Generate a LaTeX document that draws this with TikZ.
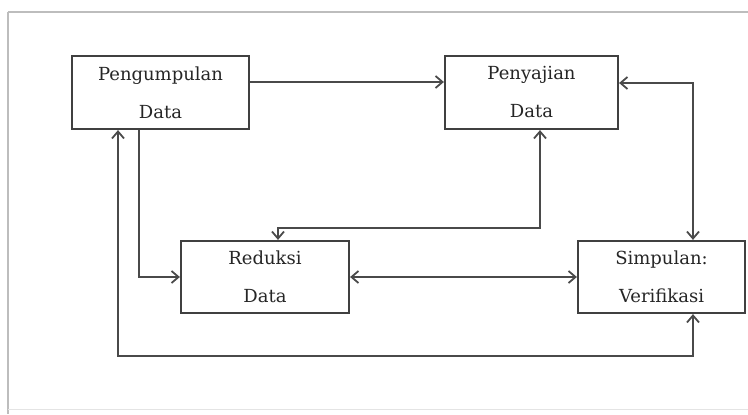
\documentclass[tikz,border=0pt]{standalone}
\usepackage{fontspec}
\setmainfont{DejaVu Serif}
\usetikzlibrary{arrows.meta}
\definecolor{boxline}{HTML}{404040}
\definecolor{conn}{HTML}{4A4A4A}
\definecolor{txt}{HTML}{262626}
\definecolor{frame}{HTML}{BDBDBD}
\tikzset{
  box/.style={draw=boxline, line width=2.2pt, rectangle, inner sep=0pt, align=center,
    text=txt, font=\fontsize{18}{38}\selectfont},
  conarrow/.style={draw=conn, line width=2pt,
    arrows={Straight Barb[length=7pt,width=12pt,line width=1.8pt]-Straight Barb[length=7pt,width=12pt,line width=1.8pt]}},
  conone/.style={draw=conn, line width=2pt,
    -{Straight Barb[length=7pt,width=12pt,line width=1.8pt]}},
}
\begin{document}
\begin{tikzpicture}[x=1pt,y=-1pt]
\useasboundingbox (0,0) rectangle (748,415);
\fill[white] (0,0) rectangle (748,415);
% frame
\draw[frame, line width=1.8pt] (8,12) -- (748,12);
\draw[frame, line width=1.8pt] (8,12) -- (8,414);
\draw[frame!40, line width=1pt] (8,409) -- (748,409);
% boxes
\node[box, minimum width=177pt, minimum height=73pt] (peng) at (160.5,92.5) {Pengumpulan\\Data};
\node[box, minimum width=173pt, minimum height=73pt] (pen) at (531.5,92.5) {Penyajian\\Data};
\node[box, minimum width=168pt, minimum height=72pt] (red) at (265,277) {Reduksi\\Data};
\node[box, minimum width=167pt, minimum height=72pt] (simp) at (661.5,277) {Simpulan:\\Verifikasi};
% connectors
\draw[conone] ([yshift=10.5pt]peng.east) -- ([yshift=10.5pt]pen.west);
\draw[conarrow] ([yshift=9.5pt]pen.east) -| ([xshift=31.5pt]simp.north);
\coordinate (mid) at ([xshift=8.5pt,yshift=-98pt]pen.south);
\draw[conarrow] ([xshift=8.5pt]pen.south) -- (mid) -| ([xshift=13pt]red.north);
\draw[conone] ([xshift=-21.5pt]peng.south) |- (red.west);
\draw[conarrow] (red.east) -- (simp.west);
\coordinate (low) at ([xshift=-42.5pt,yshift=-226pt]peng.south);
\draw[conarrow] ([xshift=-42.5pt]peng.south) -- (low) -| ([xshift=31.5pt]simp.south);
\end{tikzpicture}
\end{document}
